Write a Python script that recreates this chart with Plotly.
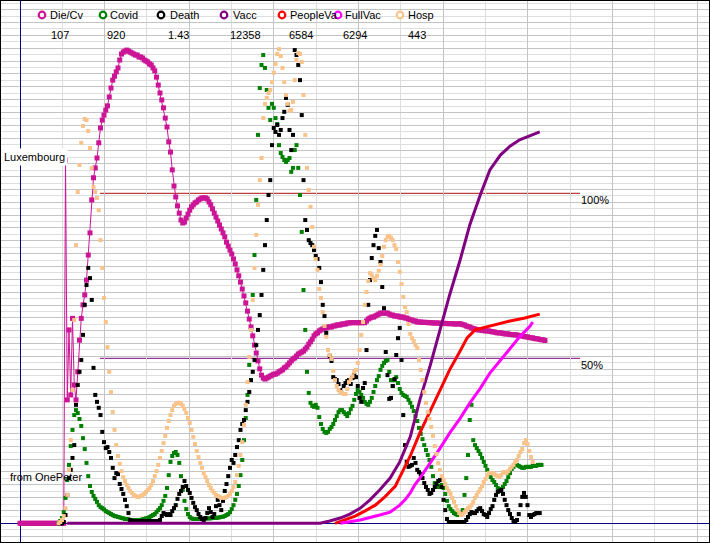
import plotly.graph_objects as go

# ---------------- data (day index = days since 2020-01-22) ----------------
DAY_STEP = 2  # readings every 2 days for the daily series

DIECV_START_DAY = 0
DIECV = [0, 0, 0, 0, 0, 0, 0, 0, 0, 0, 0, 0, 0, 0, 0, 0, 0, 0, 0, 0, 0, 0, 0, 0, 0, 0,
         110.0, 37.4, 58.6, 38.9, 62.1, 41.9, 37.4, 45.9, 55.5, 62.1,
         66.2, 69.2, 73.7, 81.3, 88.0, 98.0, 104.7, 107.7, 110.7, 115.3,
         119.8, 122.2, 123.7, 125.2, 126.5, 129.2, 131.9, 134.3, 135.5, 136.8,
         138.0, 140.4, 142.2, 142.8, 143.1, 143.4, 143.1, 142.8, 142.5, 142.2,
         141.9, 141.9, 141.3, 141.3, 141.0, 140.4, 140.1, 139.8, 139.2, 138.9,
         138.0, 137.1, 135.2, 132.8, 130.4, 128.3, 125.9, 122.8, 120.1, 115.6,
         112.5, 107.1, 102.2, 98.9, 96.2, 94.0, 91.9, 91.0, 91.3, 92.5,
         93.7, 94.9, 95.9, 96.5, 97.1, 97.4, 98.0, 98.3, 98.6, 98.6,
         98.6, 98.3, 97.4, 96.5, 95.3, 94.0, 92.8, 91.6, 90.4, 89.2,
         88.0, 86.8, 85.2, 84.0, 82.8, 81.6, 80.1, 78.6, 76.8, 75.0,
         73.1, 71.0, 68.9, 66.8, 64.3, 61.9, 59.5, 56.8, 54.0, 51.6,
         49.2, 46.8, 44.9, 44.0, 43.7, 44.0, 44.3, 44.6, 44.9, 45.2,
         45.2, 45.5, 45.9, 46.2, 46.5, 47.1, 47.4, 48.0, 48.6, 49.2,
         49.8, 50.1, 50.7, 51.3, 51.6, 51.9, 52.2, 52.8, 53.4, 54.3,
         55.0, 55.8, 56.8, 57.4, 57.7, 58.3, 58.6, 58.9, 59.2, 59.2,
         59.5, 59.5, 59.5, 59.8, 59.8, 60.1, 60.1, 60.1, 60.4, 60.4,
         60.4, 60.7, 60.7,
         60.8, 60.8, 60.8, 60.8, 60.8, 60.8, 60.8, 60.8, 60.8,
         61.3, 61.9, 62.2, 62.5, 62.5, 62.8, 63.1, 63.4, 63.7, 63.7,
         63.7, 63.7, 63.7, 63.4, 63.1, 63.1, 62.8, 62.8, 62.8, 62.5,
         62.5, 62.5, 62.2, 62.2, 61.9, 61.6, 61.6, 61.3, 61.3, 61.0,
         61.0, 61.0, 60.9, 60.9, 60.9, 60.8, 60.8, 60.8, 60.7, 60.7, 60.7, 60.7,
         60.6, 60.6, 60.6, 60.6, 60.5, 60.5, 60.5, 60.5, 60.4, 60.4, 60.4,
         60.5, 60.4, 60.2, 60.1, 59.8, 59.6, 59.5, 59.2, 59.0, 58.9,
         58.7, 58.6, 58.6, 58.4, 58.4, 58.3, 58.3, 58.3, 58.1, 58.0,
         58.0, 57.8, 57.7, 57.7, 57.7, 57.5, 57.4, 57.4, 57.4, 57.2,
         57.2, 57.1, 57.1, 57.1, 56.9, 56.8, 56.8, 56.6, 56.5, 56.5,
         56.3, 56.2, 56.2, 56.0, 55.9, 55.9, 55.7, 55.6, 55.6, 55.4]

COVID_START_DAY = 44
COVID = [0, 0.7, 1.6, 3.4, 7.7, 13.1, 17.7, 23.4, 28.3, 32.8,
         34.3, 33.4, 31.6, 29.5, 25.8, 22.5, 18.3, 14.3, 11.3, 9.5,
         8.3, 7.4, 6.5, 5.5, 4.9, 4.6, 4.2, 3.7, 3.4, 3.1,
         2.8, 2.5, 2.2, 2.1, 1.9, 1.8, 1.6, 1.5, 1.3, 1.3,
         1.2, 1.0, 1.0, 1.0, 1.0, 1.0, 1.0, 1.0, 1.2, 1.3,
         1.5, 1.6, 1.9, 2.2, 2.5, 2.8, 3.4, 4.0, 4.6, 5.5,
         6.8, 8.3, 10.7, 14.6, 18.6, 20.4, 21.3, 21.6, 20.7, 18.3,
         14.3, 10.1, 6.8, 4.3, 2.8, 1.9, 1.5, 1.3, 1.3,
         1.3, 1.3, 1.3, 1.4, 1.4, 1.4, 1.5, 1.5, 1.5, 1.6,
         1.6, 1.6, 1.7, 1.8, 1.9, 2.0, 2.2, 2.5,
         2.8, 3.4, 4.3, 5.5, 7.1, 8.9, 11.3, 14.6, 19.2, 25.2,
         31.9, 38.9, 48.0, 58.6, 69.2, 81.3, 98.0, 117.7, 131.9, 138.9,
         141.9, 138.0, 131.3, 125.9, 122.2, 127.1, 125.9, 122.8, 121.0, 114.6,
         112.2, 111.0, 110.1, 109.5, 110.1, 110.7, 106.5, 107.7, 113.1, 114.6,
         107.7, 99.5, 88.3, 70.7, 58.6, 45.9, 39.5, 36.5, 35.6, 35.3,
         35.9, 35.0, 32.2, 30.1, 28.6, 27.7, 27.4, 27.7, 28.6, 29.2,
         30.1, 31.3, 32.5, 33.7, 34.3, 34.3, 33.7, 33.1, 32.5, 33.4,
         34.6, 35.6, 37.4, 39.2, 40.4, 39.8, 38.9, 38.0, 36.8, 36.2,
         35.9, 36.8, 38.0, 39.8, 41.6, 43.4, 44.6, 46.5, 47.7, 48.6,
         49.2, 49.5, 45.9, 43.4, 41.6, 43.4, 44.3, 42.5, 40.7, 39.5,
         38.9, 38.6, 38.3, 37.4, 36.5, 35.3, 34.0, 32.5, 31.0, 28.9,
         27.1, 25.5, 23.7, 22.2, 20.7, 19.2, 17.1, 14.3, 12.2, 11.0,
         11.0, 11.3, 11.6, 10.7, 8.9, 6.8, 5.2, 4.3, 3.7, 3.1,
         2.8, 2.5, 2.5, 2.8, 4.0, 8.6, 13.7, 20.7, 31.3, 35.9,
         25.2, 23.7, 22.8, 21.9, 21.0, 19.8, 18.6, 17.4, 16.2, 14.9,
         14.0, 13.1, 12.5, 11.6, 10.7, 10.1, 10.4, 11.0, 11.9, 12.8,
         14.0, 15.2, 16.5, 17.1, 17.7, 17.7, 17.4, 17.1, 16.8, 16.8,
         17.1, 17.1, 17.1, 17.1, 17.4, 17.4, 17.4, 17.7, 17.7, 17.7]

DEATH_START_DAY = 44
DEATH = [0, 0, 0, 0.4, 2.5, 8.6, 13.7, 16.2, 19.8, 23.7,
         35.9, 41.9, 45.9, 49.5, 57.1, 66.2, 72.2, 77.4, 74.3, 67.7,
         47.1, 38.9, 36.8, 35.0, 32.8, 27.7, 24.6, 22.8, 23.1, 21.6,
         19.8, 16.8, 13.7, 15.2, 14.9, 11.9, 10.4, 8.9, 7.1, 5.2,
         3.1, 1.0,
         0.7, 0.7, 0.7, 0.7, 0.7, 0.7, 0.7, 0.7, 0.7, 0.7, 0.7, 0.7, 0.7, 0.7, 0.7, 0.7,
         1.0, 2.2, 3.1, 2.8, 2.5, 2.8, 2.5, 3.7, 4.6, 5.5,
         7.4, 8.9, 9.8, 11.0, 12.8, 11.3, 10.1, 9.2, 7.7, 6.2,
         4.9, 4.0, 2.8, 1.9, 1.3, 1.0, 1.6, 3.1, 4.6, 3.4,
         1.9, 2.8, 5.2, 7.1, 5.5, 4.0, 6.8, 9.8, 11.9, 14.3,
         16.8, 19.2, 18.3, 20.7, 23.1, 25.2, 28.3, 30.1, 31.3, 34.3,
         36.8, 39.8, 43.4, 45.9, 49.5, 54.0, 58.6, 63.1, 69.2, 76.8,
         84.3, 91.9, 99.5, 104.0, 114.6, 119.8, 118.6, 120.7, 117.7, 119.2,
         122.8, 124.7, 128.9, 126.8, 119.2, 113.1, 117.7, 143.4, 141.9, 138.9,
         134.3, 123.7, 104.0, 91.9, 88.9, 85.8, 84.9, 84.3, 82.8, 81.0,
         80.1, 77.4, 73.1, 66.2, 62.8, 57.7, 52.5, 50.7, 49.2, 44.3,
         43.7, 43.4, 42.2, 40.4, 39.5, 41.6, 42.5, 43.1, 43.4, 42.2,
         44.0, 44.9, 44.3, 41.6, 38.0, 36.8, 41.0, 42.5, 52.5, 66.2,
         73.7, 80.4, 84.3, 87.1, 88.9, 83.4, 79.2, 71.6, 65.2, 51.9,
         44.9, 37.7, 38.0, 41.6, 43.7, 51.0, 56.1, 59.2, 49.5, 32.8,
         23.7, 18.6, 17.1, 17.4, 17.7, 19.8, 18.3, 16.2, 15.5, 14.9,
         13.7, 12.2, 11.0, 10.1, 8.9, 9.2, 10.1, 11.0, 11.9, 12.8,
         13.1, 11.0, 7.1, 4.0, 1.3, 0.4,
         0.4, 0.4, 0.4, 0.4, 0.4, 0.4, 0.4, 0.4, 0.4,
         1.0, 1.9, 2.8, 3.4, 3.1, 3.1, 3.7, 4.3, 4.6, 3.7,
         2.8, 2.5, 1.9, 3.1, 4.3, 5.2, 7.1, 8.6, 9.5, 9.8,
         10.1, 8.9, 7.1, 5.5, 4.0, 2.8, 1.6, 0.7, 0.4, 1.0,
         2.8, 5.5, 8.0, 9.2, 8.0, 5.5, 2.5, 1.9, 2.5, 2.8,
         3.1, 3.1, 3.1]

HOSP_START_DAY = 44
HOSP = [0, 0.4, 1.0, 2.2, 4.6, 8.6, 16.2, 25.2, 40.4, 61.6,
        84.3, 100.4, 108.6, 115.3, 120.4, 122.5, 122.2, 118.9, 113.7, 107.7,
        101.9, 100.4, 98.6, 94.9, 85.8, 77.4, 68.3, 61.0, 53.4, 45.9,
        39.8, 33.7, 28.3, 23.7, 20.4, 18.0, 15.8, 14.0, 12.8, 11.6,
        10.7, 9.8, 9.2, 8.6, 8.3, 8.0, 8.0, 8.3, 8.6, 8.9,
        9.5, 10.1, 10.7, 11.6, 12.8, 14.3, 15.8, 17.7, 19.8, 21.9,
        24.3, 26.5, 28.9, 31.0, 32.8, 34.3, 35.6, 36.2, 36.5, 36.5,
        36.2, 35.6, 34.6, 33.4, 31.9, 30.4, 28.3, 26.2, 24.0, 21.9,
        20.1, 18.3, 16.8, 15.2, 14.0, 12.8, 11.6, 10.7, 9.8, 9.2,
        8.6, 8.3, 8.0, 7.7, 7.7, 7.7, 8.0, 8.3, 8.9, 9.8,
        11.0, 12.5, 14.6, 17.4, 20.7, 24.6, 29.8, 35.9, 42.8, 50.4,
        58.6, 67.7, 77.4, 87.4, 96.5, 104.0, 110.7, 122.8, 127.1, 128.9,
        130.4, 131.3, 133.7, 136.5, 139.2, 142.2, 143.7, 141.6, 138.0, 133.7,
        129.8, 127.1, 125.0, 125.3, 127.7, 134.3, 140.4, 142.5, 142.2, 139.8,
        129.8, 117.7, 107.7, 101.0, 95.9, 89.8, 83.8, 80.1, 76.8, 71.0,
        68.3, 64.0, 59.8, 56.5, 52.5, 51.0, 49.8, 46.2, 43.4, 41.6,
        40.4, 39.8, 39.5, 39.2, 39.2, 40.7, 42.8, 43.7, 44.6, 45.9,
        46.5, 48.6, 52.5, 57.1, 61.0, 66.2, 70.1, 73.4, 75.8, 75.2,
        74.3, 73.7, 75.0, 76.5, 78.3, 81.0, 83.8, 85.8, 86.8, 87.1,
        86.5, 85.8, 84.3, 83.1, 79.2, 76.2, 72.5, 68.6, 65.5, 64.0,
        60.4, 57.4, 56.1, 55.2, 54.0, 53.1, 49.5, 46.5, 43.4, 39.8,
        36.5, 33.7, 31.6, 29.2, 26.5, 23.4, 21.0, 18.3, 16.2, 14.3,
        13.1, 11.9, 10.7, 9.8, 8.9, 7.7, 6.5, 5.2, 4.0, 3.1,
        2.5, 2.8, 3.4, 4.0, 4.6, 4.9, 5.5, 6.5, 7.7, 8.6,
        9.5, 10.4, 11.3, 12.5, 13.4, 14.6, 15.2, 15.2, 15.2, 14.9,
        14.6, 14.3, 14.0, 14.6, 15.5, 15.5, 15.2, 15.8, 16.5, 17.1,
        17.7, 18.6, 19.2, 20.4, 21.6, 22.5, 24.3, 25.2, 24.0, 21.9,
        20.1, 18.6]

VACC_DAYS = [54, 343, 354, 366, 377, 389, 400, 411, 423, 434, 446, 457, 469, 480,
             491, 503, 514, 526, 537, 549, 560, 571, 583, 594]
VACC = [0, 0, 0.7, 1.6, 2.8, 4.6, 7.1, 10.1, 13.7, 18.6, 26.2, 37.4, 48.0, 58.6,
        69.2, 79.8, 90.4, 99.5, 107.1, 111.6, 114.3, 116.2, 117.4, 118.6]

PEOPLEVA_DAYS = [360, 371, 383, 394, 406, 417, 429, 434, 446, 457, 469, 480, 491, 503,
                 511, 520, 537, 560, 577, 594]
PEOPLEVA = [0, 1.0, 2.2, 3.7, 5.5, 8.0, 11.3, 14.0, 20.4, 27.4, 34.0, 40.4, 46.5, 52.2,
            56.2, 58.6, 59.8, 61.3, 62.2, 63.4]

FULLVAC_DAYS = [366, 389, 411, 423, 434, 440, 446, 451, 457, 469, 480, 491, 503, 514,
                526, 537, 549, 560, 571, 583, 586]
FULLVAC = [0, 1.0, 2.5, 3.4, 5.5, 7.1, 9.2, 11.6, 13.7, 18.2, 22.7, 27.3, 31.8, 36.4,
           40.9, 45.5, 49.5, 53.1, 56.5, 59.8, 61.0]

SERIES_NAMES = ["Die/Cv", "Covid", "Death", "Vacc", "PeopleVa", "FullVac", "Hosp"]
LEGEND_VALUES = ["107", "920", "1.43", "12358", "6584", "6294", "443"]
REF_LEVELS = [100, 50]
REF_LABELS = ["100%", "50%"]

# ---------------- styling ----------------
W, H = 710, 543
COLORS = {"Die/Cv": "#CC1496", "Covid": "#008000", "Death": "#000000",
          "Vacc": "#800080", "PeopleVa": "#FF0000", "FullVac": "#FF00FF",
          "Hosp": "#FAC38A"}
REF_COLORS = ["#B01010", "#800080"]
FONT = "Liberation Sans, Arial, sans-serif"
X_RANGE = [-22.857, 788.571]
Y_RANGE = [-5.97, 158.58]
GRID_X = 48.36
GRID_Y = 1.9455
REF_X = [91.4, 640.0]


def days_for(start, values):
    return [start + DAY_STEP * i for i in range(len(values))]


fig = go.Figure()

fig.add_trace(go.Scatter(x=days_for(DIECV_START_DAY, DIECV), y=DIECV, mode="lines+markers",
                         line=dict(color=COLORS["Die/Cv"], width=1),
                         marker=dict(symbol="square", size=5, color=COLORS["Die/Cv"]),
                         name="Die/Cv"))
fig.add_trace(go.Scatter(x=days_for(COVID_START_DAY, COVID), y=COVID, mode="markers",
                         marker=dict(symbol="square", size=4, color=COLORS["Covid"]),
                         name="Covid"))
fig.add_trace(go.Scatter(x=days_for(DEATH_START_DAY, DEATH), y=DEATH, mode="markers",
                         marker=dict(symbol="square", size=4, color=COLORS["Death"]),
                         name="Death"))
fig.add_trace(go.Scatter(x=VACC_DAYS, y=VACC, mode="lines",
                         line=dict(color=COLORS["Vacc"], width=3), name="Vacc"))
fig.add_trace(go.Scatter(x=PEOPLEVA_DAYS, y=PEOPLEVA, mode="lines",
                         line=dict(color=COLORS["PeopleVa"], width=3), name="PeopleVa"))
fig.add_trace(go.Scatter(x=FULLVAC_DAYS, y=FULLVAC, mode="lines",
                         line=dict(color=COLORS["FullVac"], width=3), name="FullVac"))
fig.add_trace(go.Scatter(x=days_for(HOSP_START_DAY, HOSP), y=HOSP, mode="markers",
                         marker=dict(symbol="square", size=4, color=COLORS["Hosp"]),
                         name="Hosp"))

shapes = []
annotations = []

# reference lines 100% / 50%
for lvl, lab, col in zip(REF_LEVELS, REF_LABELS, REF_COLORS):
    shapes.append(dict(type="line", xref="x", yref="y", x0=REF_X[0], x1=REF_X[1],
                       y0=lvl, y1=lvl, line=dict(color=col, width=1), layer="below"))
    annotations.append(dict(xref="x", yref="y", x=REF_X[1], y=lvl, text=lab,
                            showarrow=False, xanchor="left", yanchor="top",
                            font=dict(family=FONT, size=11, color="black"),
                            borderpad=0))

# custom legend row (markers, names, values)
LEG_MARK_X = [42, 103, 161, 224, 282, 338, 400]
LEG_TEXT_X = [50, 110, 170, 233, 290, 345, 408]
LEG_VAL_X = [51, 107, 168, 230, 289, 343, 408]
for name, val, mx, tx, vx in zip(SERIES_NAMES, LEGEND_VALUES, LEG_MARK_X, LEG_TEXT_X, LEG_VAL_X):
    r = 3.3
    shapes.append(dict(type="circle", xref="paper", yref="paper",
                       x0=(mx - r) / W, x1=(mx + r) / W,
                       y0=1 - (15 + r) / H, y1=1 - (15 - r) / H,
                       line=dict(color=COLORS[name], width=2.2), fillcolor="white"))
    annotations.append(dict(xref="paper", yref="paper", x=(tx - 1) / W, y=1 - 15.5 / H,
                            text=name, showarrow=False, xanchor="left", yanchor="middle",
                            font=dict(family=FONT, size=11, color="black"), borderpad=0))
    annotations.append(dict(xref="paper", yref="paper", x=(vx - 1) / W, y=1 - 34.5 / H,
                            text=val, showarrow=False, xanchor="left", yanchor="middle",
                            font=dict(family=FONT, size=11, color="black"), borderpad=0))

annotations.append(dict(xref="paper", yref="paper", x=1 / W, y=1 - 156.5 / H,
                        text="Luxembourg", showarrow=False, xanchor="left", yanchor="middle",
                        bgcolor="white", borderpad=2,
                        font=dict(family=FONT, size=11, color="black")))
annotations.append(dict(xref="paper", yref="paper", x=9 / W, y=1 - 477 / H,
                        text="from OnePeter", showarrow=False, xanchor="left", yanchor="middle",
                        borderpad=0, font=dict(family=FONT, size=11, color="black")))

# outer frame
shapes.append(dict(type="rect", xref="paper", yref="paper", x0=0, x1=1, y0=0, y1=1,
                   line=dict(color="black", width=2), layer="above"))

fig.update_layout(
    width=W, height=H, margin=dict(l=0, r=0, t=0, b=0, pad=0),
    paper_bgcolor="white", plot_bgcolor="white", showlegend=False,
    shapes=shapes, annotations=annotations,
)
fig.update_xaxes(range=X_RANGE, showticklabels=False, ticks="", showline=False,
                 showgrid=True, gridcolor="#C4C4C4", gridwidth=1, tick0=0, dtick=2 * GRID_X,
                 minor=dict(tick0=0, dtick=GRID_X, showgrid=True, gridcolor="#DEDEDE", gridwidth=1),
                 zeroline=True, zerolinecolor="#000080", zerolinewidth=1, fixedrange=True)
fig.update_yaxes(range=Y_RANGE, showticklabels=False, ticks="", showline=False,
                 showgrid=True, gridcolor="#C4C4C4", gridwidth=1, tick0=0, dtick=2 * GRID_Y,
                 minor=dict(tick0=0, dtick=GRID_Y, showgrid=True, gridcolor="#DEDEDE", gridwidth=1),
                 zeroline=True, zerolinecolor="#000080", zerolinewidth=1, fixedrange=True)

fig.write_html("out.html")
